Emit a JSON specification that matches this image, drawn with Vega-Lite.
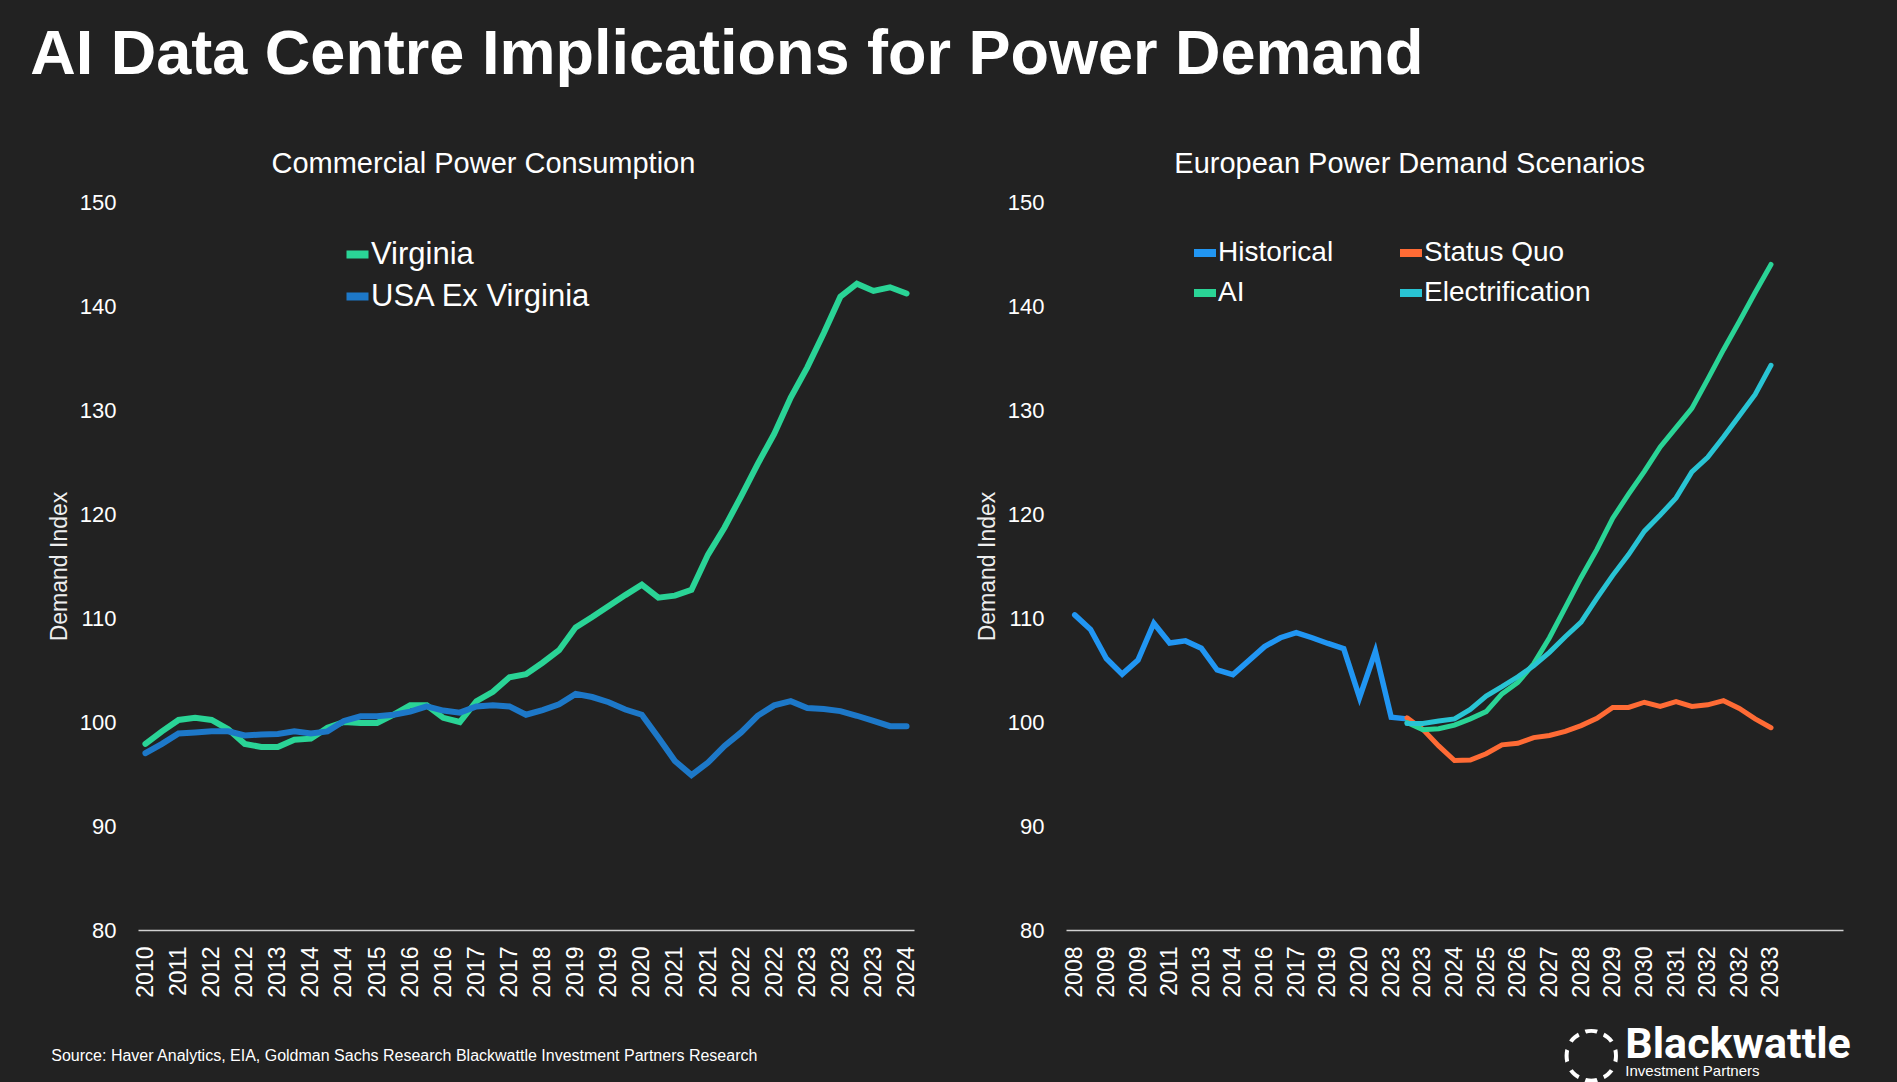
{
  "$schema": "https://vega.github.io/schema/vega-lite/v6.json",
  "background": "#222222",
  "padding": {"left": 30, "top": 24, "right": 49, "bottom": 0},
  "title": {"text": "AI Data Centre Implications for Power Demand", "anchor": "start", "fontSize": 63, "fontWeight": "bold", "color": "#ffffff", "offset": 63, "dx": -18},
  "vconcat": [
    {
      "title": {"text": "◌", "orient": "bottom", "anchor": "start", "align": "center", "font": "DejaVu Sans", "fontSize": 70, "fontWeight": "bold", "color": "#ffffff", "dx": 1543, "offset": -60},
      "vconcat": [
        {
          "title": {"text": "Blackwattle", "subtitle": "Investment Partners", "orient": "bottom", "anchor": "start", "align": "left", "dx": 1577, "offset": -40, "font": "Roboto", "fontSize": 43, "fontWeight": "bold", "color": "#ffffff", "subtitleFont": "Liberation Sans", "subtitleFontSize": 15, "subtitleColor": "#ffffff", "subtitlePadding": -3},
          "vconcat": [
            {
              "title": {"text": "Source: Haver Analytics, EIA, Goldman Sachs Research Blackwattle Investment Partners Research", "orient": "bottom", "anchor": "start", "fontSize": 16, "fontWeight": "normal", "color": "#ffffff", "offset": 51, "dx": 3},
              "spacing": 57,
              "resolve": {"scale": {"color": "independent", "x": "independent", "y": "independent"}, "legend": {"color": "independent"}},
              "hconcat": [
                {
                  "width": 776,
                  "height": 728,
                  "title": {"text": "Commercial Power Consumption", "frame": "bounds", "fontSize": 29, "fontWeight": "normal", "color": "#ffffff", "offset": 12},
                  "data": {"values": [
                    {"i":0,"virginia":97.9,"usa":97.0},
                    {"i":1,"virginia":99.1,"usa":97.9},
                    {"i":2,"virginia":100.2,"usa":98.9},
                    {"i":3,"virginia":100.4,"usa":99.0},
                    {"i":4,"virginia":100.2,"usa":99.1},
                    {"i":5,"virginia":99.3,"usa":99.1},
                    {"i":6,"virginia":97.9,"usa":98.7},
                    {"i":7,"virginia":97.6,"usa":98.8},
                    {"i":8,"virginia":97.6,"usa":98.85},
                    {"i":9,"virginia":98.3,"usa":99.1},
                    {"i":10,"virginia":98.4,"usa":98.9},
                    {"i":11,"virginia":99.45,"usa":99.1},
                    {"i":12,"virginia":100.0,"usa":100.1},
                    {"i":13,"virginia":99.9,"usa":100.55},
                    {"i":14,"virginia":99.9,"usa":100.55},
                    {"i":15,"virginia":100.7,"usa":100.7},
                    {"i":16,"virginia":101.6,"usa":101.0},
                    {"i":17,"virginia":101.6,"usa":101.5},
                    {"i":18,"virginia":100.4,"usa":101.1},
                    {"i":19,"virginia":100.0,"usa":100.9},
                    {"i":20,"virginia":102.0,"usa":101.5},
                    {"i":21,"virginia":102.9,"usa":101.6},
                    {"i":22,"virginia":104.3,"usa":101.5},
                    {"i":23,"virginia":104.6,"usa":100.7},
                    {"i":24,"virginia":105.7,"usa":101.15},
                    {"i":25,"virginia":106.9,"usa":101.7},
                    {"i":26,"virginia":109.1,"usa":102.7},
                    {"i":27,"virginia":110.1,"usa":102.4},
                    {"i":28,"virginia":111.15,"usa":101.9},
                    {"i":29,"virginia":112.2,"usa":101.2},
                    {"i":30,"virginia":113.2,"usa":100.7},
                    {"i":31,"virginia":111.95,"usa":98.5},
                    {"i":32,"virginia":112.15,"usa":96.25},
                    {"i":33,"virginia":112.7,"usa":94.9},
                    {"i":34,"virginia":116.1,"usa":96.1},
                    {"i":35,"virginia":118.7,"usa":97.7},
                    {"i":36,"virginia":121.7,"usa":99.0},
                    {"i":37,"virginia":124.8,"usa":100.6},
                    {"i":38,"virginia":127.7,"usa":101.6},
                    {"i":39,"virginia":131.2,"usa":102.0},
                    {"i":40,"virginia":134.1,"usa":101.35},
                    {"i":41,"virginia":137.4,"usa":101.25},
                    {"i":42,"virginia":140.9,"usa":101.05},
                    {"i":43,"virginia":142.15,"usa":100.6},
                    {"i":44,"virginia":141.45,"usa":100.1},
                    {"i":45,"virginia":141.8,"usa":99.6},
                    {"i":46,"virginia":141.2,"usa":99.6}
                  ]},
                  "encoding": {
                    "x": {"field": "i", "type": "ordinal", "scale": {"type": "point", "padding": 0.45, "domain": [0,1,2,3,4,5,6,7,8,9,10,11,12,13,14,15,16,17,18,19,20,21,22,23,24,25,26,27,28,29,30,31,32,33,34,35,36,37,38,39,40,41,42,43,44,45,46]}, "axis": {"title": null, "labelOverlap": false, "labelFlush": false, "values": [0,2,4,6,8,10,12,14,16,18,20,22,24,26,28,30,32,34,36,38,40,42,44,46], "labelExpr": "['2010','2011','2012','2012','2013','2014','2014','2015','2016','2016','2017','2017','2018','2019','2019','2020','2021','2021','2022','2022','2023','2023','2023','2024'][datum.value/2]"}}
                  },
                  "layer": [
                    {
                      "mark": {"type": "line", "strokeWidth": 6, "strokeCap": "round"},
                      "encoding": {
                        "y": {"field": "virginia", "type": "quantitative", "scale": {"domain": [80, 150], "nice": false, "zero": false}, "axis": {"title": "Demand Index", "values": [80,90,100,110,120,130,140,150]}},
                        "color": {"datum": "Virginia", "scale": {"domain": ["Virginia", "USA Ex Virginia"], "range": ["#2AD496", "#1D78C8"]}, "legend": {"orient": "none", "legendX": 204, "legendY": 37, "labelFontSize": 31, "rowPadding": 9, "symbolSize": 484, "labelOffset": -2}}
                      }
                    },
                    {
                      "mark": {"type": "line", "strokeWidth": 6, "strokeCap": "round"},
                      "encoding": {
                        "y": {"field": "usa", "type": "quantitative", "axis": {"title": "Demand Index", "values": [80,90,100,110,120,130,140,150]}},
                        "color": {"datum": "USA Ex Virginia"}
                      }
                    }
                  ]
                },
                {
                  "width": 777,
                  "height": 728,
                  "title": {"text": "European Power Demand Scenarios", "frame": "bounds", "fontSize": 29, "fontWeight": "normal", "color": "#ffffff", "offset": 12},
                  "data": {"values": [
                    {"i":0,"hist":110.3},
                    {"i":1,"hist":108.9},
                    {"i":2,"hist":106.1},
                    {"i":3,"hist":104.6},
                    {"i":4,"hist":105.95},
                    {"i":5,"hist":109.5},
                    {"i":6,"hist":107.6},
                    {"i":7,"hist":107.8},
                    {"i":8,"hist":107.1},
                    {"i":9,"hist":105.0},
                    {"i":10,"hist":104.55},
                    {"i":11,"hist":105.9},
                    {"i":12,"hist":107.25},
                    {"i":13,"hist":108.1},
                    {"i":14,"hist":108.6},
                    {"i":15,"hist":108.1},
                    {"i":16,"hist":107.55},
                    {"i":17,"hist":107.05},
                    {"i":18,"hist":102.35},
                    {"i":19,"hist":106.8},
                    {"i":20,"hist":100.45},
                    {"i":21,"hist":100.3,"sq":100.4,"ai":99.95,"el":99.85},
                    {"i":22,"sq":99.3,"ai":99.25,"el":99.85},
                    {"i":23,"sq":97.7,"ai":99.35,"el":100.1},
                    {"i":24,"sq":96.3,"ai":99.7,"el":100.3},
                    {"i":25,"sq":96.35,"ai":100.3,"el":101.2},
                    {"i":26,"sq":96.95,"ai":101.0,"el":102.5},
                    {"i":27,"sq":97.8,"ai":102.7,"el":103.4},
                    {"i":28,"sq":97.95,"ai":103.8,"el":104.35},
                    {"i":29,"sq":98.5,"ai":105.6,"el":105.4},
                    {"i":30,"sq":98.7,"ai":108.1,"el":106.7},
                    {"i":31,"sq":99.1,"ai":111.0,"el":108.2},
                    {"i":32,"sq":99.65,"ai":113.9,"el":109.6},
                    {"i":33,"sq":100.35,"ai":116.6,"el":111.9},
                    {"i":34,"sq":101.4,"ai":119.6,"el":114.1},
                    {"i":35,"sq":101.4,"ai":121.9,"el":116.1},
                    {"i":36,"sq":101.9,"ai":124.1,"el":118.35},
                    {"i":37,"sq":101.5,"ai":126.45,"el":119.9},
                    {"i":38,"sq":101.95,"ai":128.3,"el":121.55},
                    {"i":39,"sq":101.5,"ai":130.15,"el":124.05},
                    {"i":40,"sq":101.65,"ai":132.95,"el":125.45},
                    {"i":41,"sq":102.05,"ai":135.8,"el":127.4},
                    {"i":42,"sq":101.3,"ai":138.5,"el":129.45},
                    {"i":43,"sq":100.3,"ai":141.3,"el":131.5},
                    {"i":44,"sq":99.45,"ai":144.0,"el":134.3}
                  ]},
                  "encoding": {
                    "x": {"field": "i", "type": "ordinal", "scale": {"type": "point", "padding": 0.55, "domain": [0,1,2,3,4,5,6,7,8,9,10,11,12,13,14,15,16,17,18,19,20,21,22,23,24,25,26,27,28,29,30,31,32,33,34,35,36,37,38,39,40,41,42,43,44,45,46,47,48]}, "axis": {"title": null, "labelOverlap": false, "labelFlush": false, "values": [0,2,4,6,8,10,12,14,16,18,20,22,24,26,28,30,32,34,36,38,40,42,44], "labelExpr": "['2008','2009','2009','2011','2013','2014','2016','2017','2019','2020','2023','2023','2024','2025','2026','2027','2028','2029','2030','2031','2032','2032','2033'][datum.value/2]"}}
                  },
                  "layer": [
                    {
                      "mark": {"type": "line", "strokeWidth": 5.5, "strokeCap": "round"},
                      "encoding": {
                        "y": {"field": "hist", "type": "quantitative", "scale": {"domain": [80, 150], "nice": false, "zero": false}, "axis": {"title": "Demand Index", "values": [80,90,100,110,120,130,140,150]}},
                        "color": {"datum": "Historical", "scale": {"domain": ["Historical", "AI", "Status Quo", "Electrification"], "range": ["#2196F3", "#2AD496", "#FF6B35", "#29C4D4"]}, "legend": {"orient": "none", "legendX": 124, "legendY": 36, "columns": 2, "columnPadding": 50, "labelFontSize": 28, "rowPadding": 8, "symbolSize": 484, "labelOffset": -2}}
                      }
                    },
                    {
                      "mark": {"type": "line", "strokeWidth": 5, "strokeCap": "round"},
                      "encoding": {
                        "y": {"field": "sq", "type": "quantitative", "axis": {"title": "Demand Index", "values": [80,90,100,110,120,130,140,150]}},
                        "color": {"datum": "Status Quo"}
                      }
                    },
                    {
                      "mark": {"type": "line", "strokeWidth": 5, "strokeCap": "round"},
                      "encoding": {
                        "y": {"field": "ai", "type": "quantitative", "axis": {"title": "Demand Index", "values": [80,90,100,110,120,130,140,150]}},
                        "color": {"datum": "AI"}
                      }
                    },
                    {
                      "mark": {"type": "line", "strokeWidth": 5, "strokeCap": "round"},
                      "encoding": {
                        "y": {"field": "el", "type": "quantitative", "axis": {"title": "Demand Index", "values": [80,90,100,110,120,130,140,150]}},
                        "color": {"datum": "Electrification"}
                      }
                    }
                  ]
                }
              ]
            }
          ]
        }
      ]
    }
  ],
  "config": {
    "font": "Liberation Sans",
    "view": {"stroke": null},
    "title": {"color": "#ffffff"},
    "axis": {"labelColor": "#ffffff", "ticks": false, "tickSize": 0, "grid": false, "domain": false, "titleColor": "#eeeeee", "titleFontWeight": "normal", "labelFlush": false, "labelOverlap": false},
    "axisX": {"domain": true, "domainColor": "#d0d0d0", "domainWidth": 1.5, "labelAngle": 270, "labelFontSize": 23, "labelPadding": 16},
    "axisY": {"labelFontSize": 22, "labelPadding": 22, "titleFontSize": 23, "titlePadding": 8},
    "legend": {"title": null, "symbolType": "stroke", "symbolStrokeWidth": 8, "labelColor": "#ffffff", "labelOffset": 0, "labelLimit": 400, "padding": 0}
  }
}
